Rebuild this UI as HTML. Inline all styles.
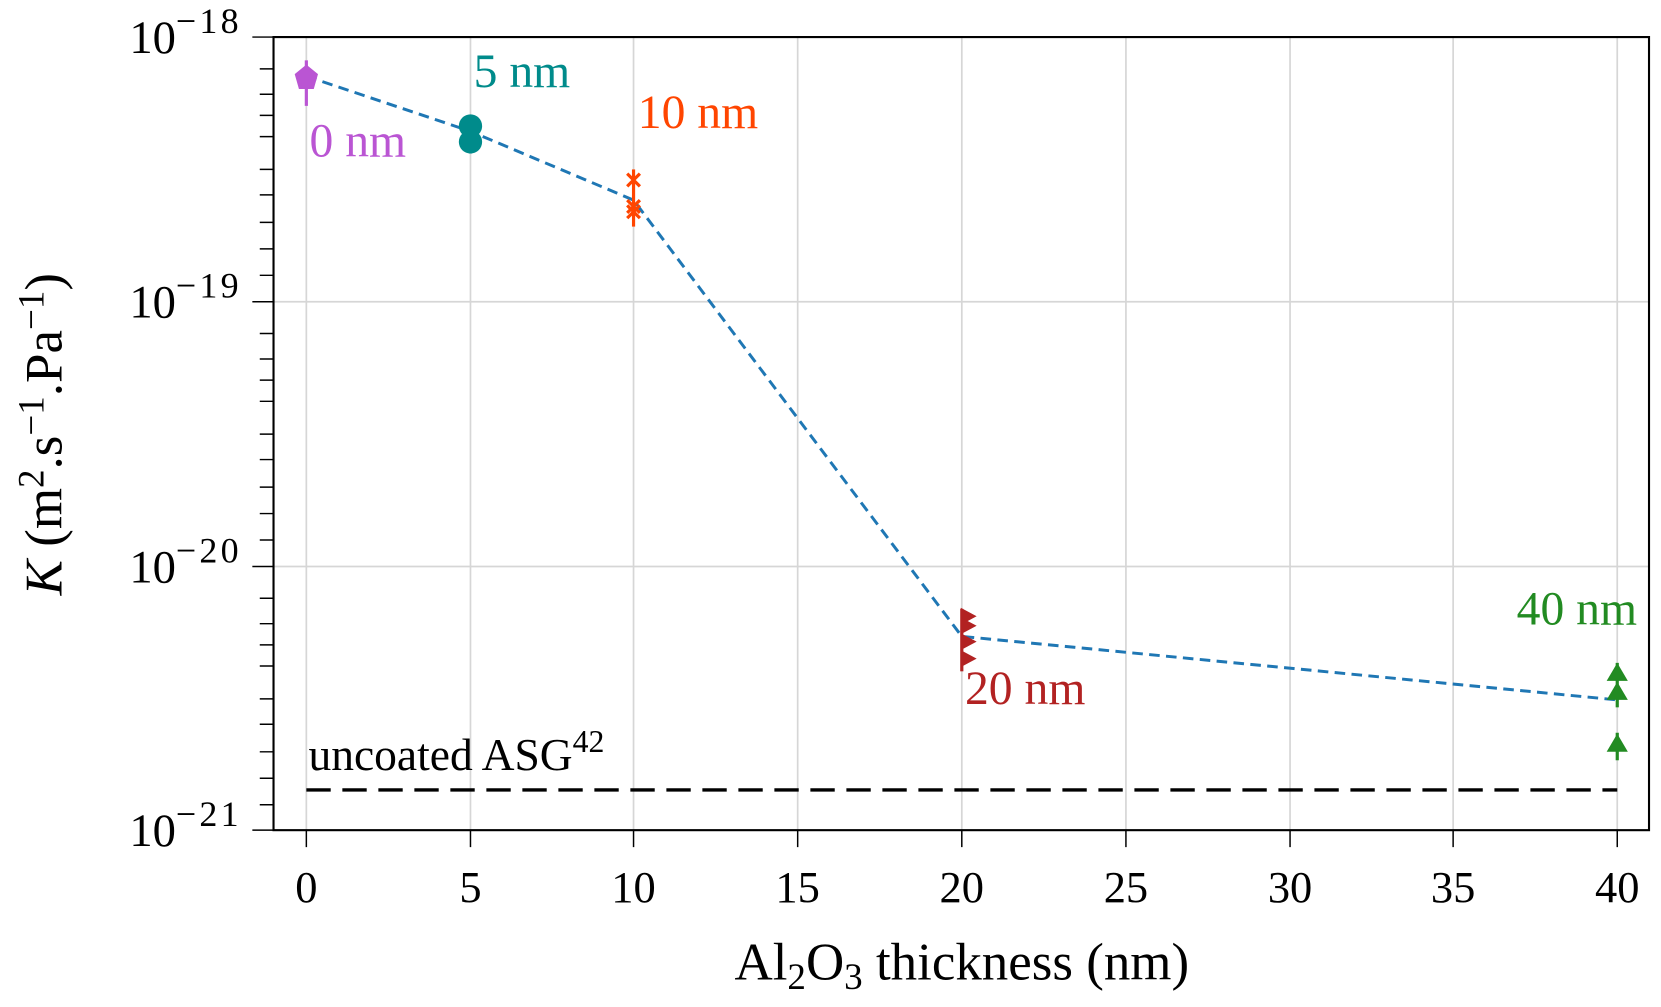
<!DOCTYPE html>
<html><head><meta charset="utf-8"><style>
html,body{margin:0;padding:0;background:#fff;}
svg{display:block;}
text{font-family:"Liberation Serif","DejaVu Serif",serif;}
</style></head><body>
<svg width="1661" height="1007" viewBox="0 0 1568 951" xmlns="http://www.w3.org/2000/svg">
<rect width="1568" height="951" fill="#fff"/>
<g stroke="#d6d6d6" stroke-width="1.6">
<line x1="289" y1="35" x2="289" y2="784"/><line x1="444" y1="35" x2="444" y2="784"/>
<line x1="598" y1="35" x2="598" y2="784"/><line x1="753" y1="35" x2="753" y2="784"/>
<line x1="908" y1="35" x2="908" y2="784"/><line x1="1063" y1="35" x2="1063" y2="784"/>
<line x1="1218" y1="35" x2="1218" y2="784"/><line x1="1372" y1="35" x2="1372" y2="784"/>
<line x1="1527" y1="35" x2="1527" y2="784"/>
<line x1="258" y1="285" x2="1557" y2="285"/><line x1="258" y1="535" x2="1557" y2="535"/>
</g>
<polyline points="289,72 444,124 598,189 908,601 1527,661" fill="none" stroke="#1f77b4" stroke-width="2.8" stroke-dasharray="10,6"/>
<line x1="289" y1="746" x2="1527" y2="746" stroke="#000" stroke-width="3.2" stroke-dasharray="23,11"/>
<line x1="289" y1="57" x2="289" y2="100" stroke="#ba55d3" stroke-width="3"/>
<polygon points="289,61 300,70 296,84 282,84 278,70" fill="#ba55d3"/>
<line x1="444" y1="109" x2="444" y2="145" stroke="#008b8b" stroke-width="3"/>
<circle cx="444" cy="119" r="11" fill="#008b8b"/><circle cx="444" cy="134" r="11" fill="#008b8b"/>
<line x1="598" y1="160" x2="598" y2="214" stroke="#ff4500" stroke-width="3"/>
<g stroke="#ff4500" stroke-width="3">
<path d="M592,164 L604,176 M604,164 L592,176"/>
<path d="M592,189 L604,201 M604,189 L592,201"/>
<path d="M592,194 L604,206 M604,194 L592,206"/>
</g>
<line x1="908" y1="575" x2="908" y2="634" stroke="#b22222" stroke-width="3"/>
<g fill="#b22222">
<polygon points="907,574 922,582 907,590"/><polygon points="907,583 922,591 907,599"/>
<polygon points="907,598 922,606 907,614"/><polygon points="907,614 922,622 907,630"/>
</g>
<g stroke="#228b22" stroke-width="3">
<line x1="1527" y1="626" x2="1527" y2="668"/><line x1="1527" y1="692" x2="1527" y2="718"/>
</g>
<g fill="#228b22">
<polygon points="1527,626 1537,643 1517,643"/><polygon points="1527,644 1537,661 1517,661"/>
<polygon points="1527,693 1537,710 1517,710"/>
</g>
<rect x="258" y="35" width="1299" height="749" fill="none" stroke="#000" stroke-width="2"/>
<g stroke="#000" stroke-width="1.4">
<line x1="238" y1="35" x2="258" y2="35"/><line x1="238" y1="285" x2="258" y2="285"/>
<line x1="238" y1="535" x2="258" y2="535"/><line x1="238" y1="784" x2="258" y2="784"/>
<path d="M245,65h13M245,89h13M245,109h13M245,129h13M245,160h13M245,184h13M245,210h13M245,260h13M245,235h13
M245,315h13M245,339h13M245,359h13M245,379h13M245,410h13M245,434h13M245,460h13M245,485h13M245,510h13
M245,565h13M245,589h13M245,609h13M245,629h13M245,660h13M245,684h13M245,710h13M245,735h13M245,760h13"/>
<path d="M289,784v16M444,784v16M598,784v16M753,784v16M908,784v16M1063,784v16M1218,784v16M1372,784v16M1527,784v16"/>
</g>
<g font-size="42" text-anchor="middle">
<text x="289" y="852">0</text><text x="444" y="852">5</text><text x="598" y="852">10</text>
<text x="753" y="852">15</text><text x="908" y="852">20</text><text x="1063" y="852">25</text>
<text x="1218" y="852">30</text><text x="1372" y="852">35</text><text x="1527" y="852">40</text>
</g>
<g font-size="44" text-anchor="end">
<text x="228" y="50">10<tspan font-size="34" dy="-19" letter-spacing="3">−18</tspan></text>
<text x="228" y="300">10<tspan font-size="34" dy="-19" letter-spacing="3">−19</tspan></text>
<text x="228" y="550">10<tspan font-size="34" dy="-19" letter-spacing="3">−20</tspan></text>
<text x="228" y="799">10<tspan font-size="34" dy="-19" letter-spacing="3">−21</tspan></text>
</g>
<text x="908" y="925" font-size="50" text-anchor="middle">Al<tspan font-size="35" dy="9">2</tspan><tspan dy="-9">O</tspan><tspan font-size="35" dy="9">3</tspan><tspan dy="-9"> thickness (nm)</tspan></text>
<text transform="translate(58,410) rotate(-90)" font-size="50" text-anchor="middle"><tspan font-style="italic">K</tspan> (m<tspan font-size="35" dy="-17">2</tspan><tspan dy="17">.s</tspan><tspan font-size="35" dy="-17">−1</tspan><tspan dy="17">.Pa</tspan><tspan font-size="35" dy="-17">−1</tspan><tspan dy="17">)</tspan></text>
<g font-size="45">
<text x="292" y="148" fill="#ba55d3">0 nm</text>
<text x="447" y="82" fill="#008b8b">5 nm</text>
<text x="602" y="121" fill="#ff4500">10 nm</text>
<text x="911" y="665" fill="#b22222">20 nm</text>
<text x="1432" y="590" fill="#228b22">40 nm</text>
</g>
<text x="291" y="727" font-size="43">uncoated ASG<tspan font-size="30" dy="-17">42</tspan></text>
</svg>
</body></html>
